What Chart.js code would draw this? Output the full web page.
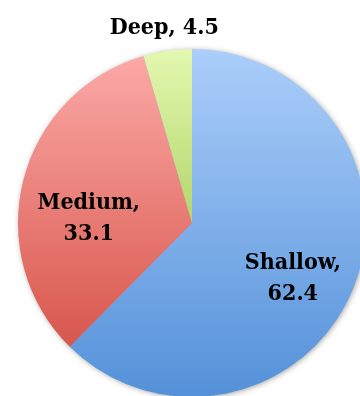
<!DOCTYPE html>
<html lang="en">
<head>
  <meta charset="UTF-8"/>
  <title>Depth share</title>
  <style>
    html, body { margin: 0; padding: 0; background: #fff; }
    .frame { width: 360px; height: 396px; overflow: hidden; position: relative; }
    #depthPie { position: absolute; left: 0; top: 0; }
  </style>
</head>
<body>
  <div class="frame">
    <canvas id="depthPie" width="384" height="420"></canvas>
  </div>
  <script src="https://cdn.jsdelivr.net/npm/chart.js@4.4.1/dist/chart.umd.min.js"></script>
  <script>
    const categories = ['Shallow', 'Medium', 'Deep']
    const shares = [62.4, 33.1, 4.5]
    // top / bottom gradient colours per slice, and where the bottom stop sits (0..1 of the pie height)
    const topColors = ['#abcefa', '#fcaba9', '#e3f8b0']
    const bottomColors = ['#5491d9', '#d8564b', '#b3d66b']
    const bottomStops = [1, 0.86, 0.5]
    // label placement: fraction of radius along the slice middle, then pixel nudge
    const labelRadius = [0.62, 0.6, 1.13]
    const labelNudge = [[1, 15], [-2, 21], [0, 0]]

    const labelFont = 'bold 23px "DejaVu Serif Condensed", "DejaVu Serif", serif'

    function sliceFill(ctx) {
      const chart = ctx.chart, area = chart.chartArea
      if (!area) return topColors[ctx.dataIndex]
      const g = chart.ctx.createLinearGradient(0, area.top, 0, area.bottom)
      g.addColorStop(0, topColors[ctx.dataIndex])
      g.addColorStop(bottomStops[ctx.dataIndex], bottomColors[ctx.dataIndex])
      g.addColorStop(1, bottomColors[ctx.dataIndex])
      return g
    }

    // soft drop shadow behind the whole disc
    const discShadow = {
      id: 'discShadow',
      beforeDatasetsDraw(chart) {
        const arc = chart.getDatasetMeta(0).data[0]
        if (!arc) return
        const c = chart.ctx
        c.save()
        c.shadowColor = 'rgba(0,0,0,0.45)'
        c.shadowBlur = 6
        c.shadowOffsetX = 1
        c.shadowOffsetY = 1
        c.beginPath()
        c.arc(arc.x, arc.y, arc.outerRadius - 1, 0, Math.PI * 2)
        c.fillStyle = '#8fb0d8'
        c.fill()
        c.restore()
      }
    }

    const sliceLabels = {
      id: 'sliceLabels',
      afterDatasetsDraw(chart) {
        const c = chart.ctx
        c.save()
        c.font = labelFont
        c.fillStyle = '#000'
        c.textAlign = 'center'
        c.textBaseline = 'middle'
        chart.getDatasetMeta(0).data.forEach((arc, i) => {
          const mid = (arc.startAngle + arc.endAngle) / 2
          const r = arc.outerRadius * labelRadius[i]
          const x = arc.x + Math.cos(mid) * r + labelNudge[i][0]
          const y = arc.y + Math.sin(mid) * r + labelNudge[i][1]
          if (i === 2) {
            c.fillText(categories[i] + ', ' + shares[i], x, y)
          } else {
            c.fillText(categories[i] + ',', x, y - 15.5)
            c.fillText(String(shares[i]), x, y + 15.5)
          }
        })
        c.restore()
      }
    }

    new Chart(document.getElementById('depthPie'), {
      type: 'pie',
      data: {
        labels: categories,
        datasets: [{
          data: shares,
          backgroundColor: sliceFill,
          borderWidth: 0
        }]
      },
      options: {
        responsive: false,
        animation: false,
        layout: { padding: { left: 18, right: 18, top: 49, bottom: 23 } },
        plugins: { legend: { display: false }, tooltip: { enabled: false } }
      },
      plugins: [discShadow, sliceLabels]
    })
  </script>
</body>
</html>
